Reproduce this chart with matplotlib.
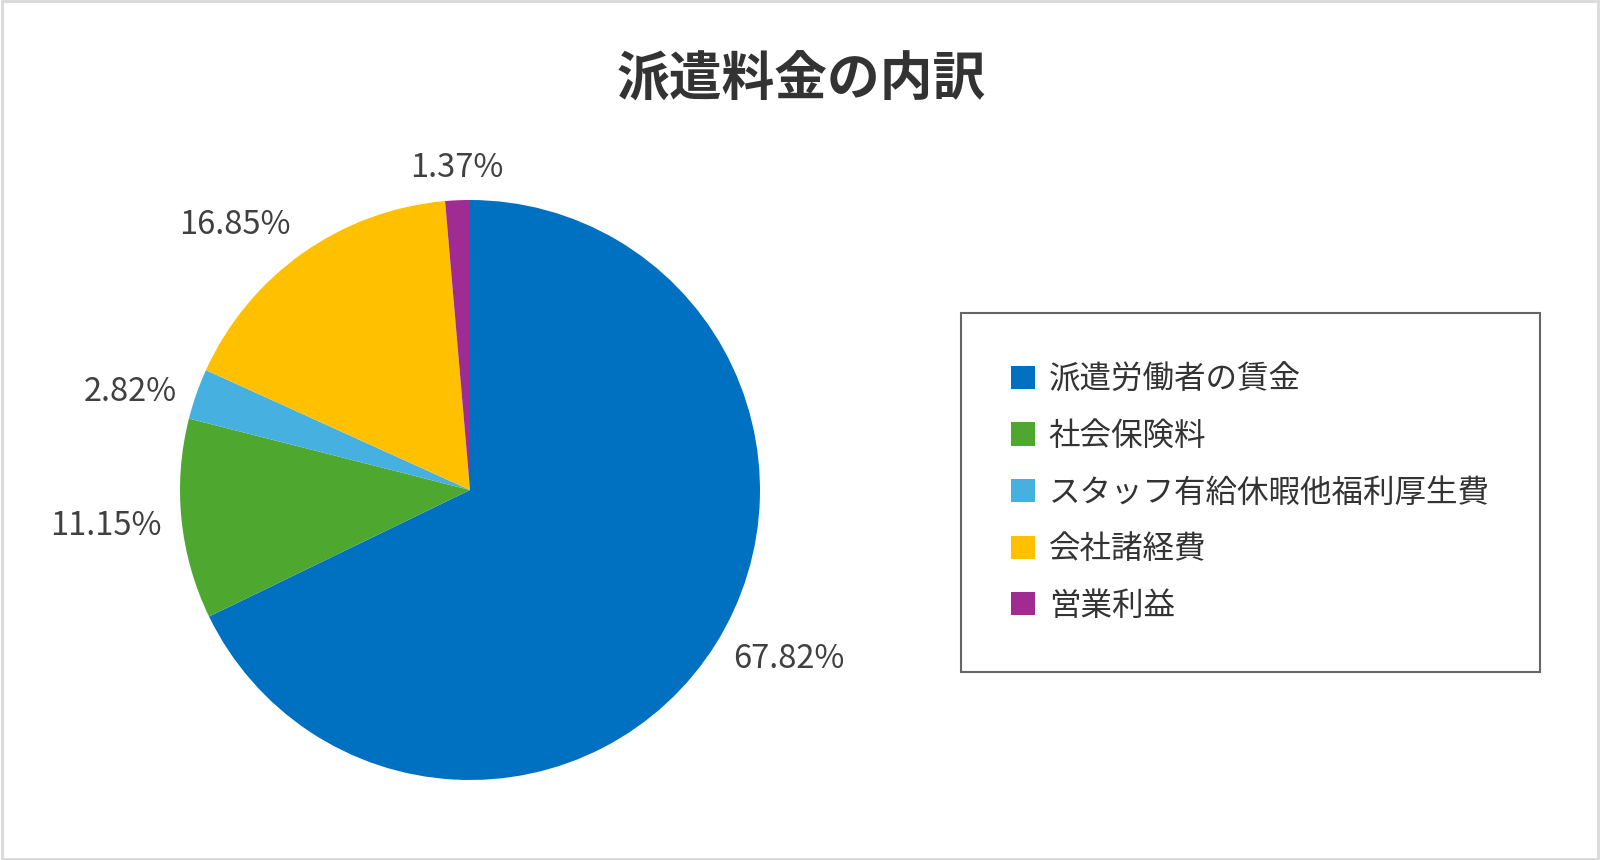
import numpy as np
import matplotlib
matplotlib.use("Agg")
import matplotlib.pyplot as plt
from matplotlib.patches import Rectangle

plt.rcParams['font.family'] = ['Noto Sans CJK JP', 'DejaVu Sans']

# data
categories = ['派遣労働者の賃金', '社会保険料', 'スタッフ有給休暇他福利厚生費', '会社諸経費', '営業利益']
shares = [67.82, 11.15, 2.82, 16.85, 1.37]
colors = ['#0070C0', '#4EA72E', '#46B1E1', '#FFC000', '#A02B93']
title = '派遣料金の内訳'

W, H = 1600, 860
fig = plt.figure(figsize=(W / 100, H / 100), dpi=100)
fig.patch.set_facecolor('white')

# light grey border round the picture
fig.patches.append(Rectangle((0.001, 0.001), 0.998, 0.998, transform=fig.transFigure,
                             fill=False, edgecolor='#d9d9d9', linewidth=2))

# pie: centre (470, 490) px, radius 290 px
cx, cy, r = 470, 490, 290
ax = fig.add_axes([(cx - r) / W, (H - cy - r) / H, 2 * r / W, 2 * r / H])
wedges, _ = ax.pie(shares, colors=colors, startangle=90, counterclock=False,
                   radius=1.0, wedgeprops=dict(linewidth=0))
ax.set_xlim(-1, 1)
ax.set_ylim(-1, 1)

# outside-end labels: box touches a circle just beyond the rim
for w, v in zip(wedges, shares):
    ang = np.deg2rad((w.theta1 + w.theta2) / 2)
    c, s = np.cos(ang), np.sin(ang)
    ha = 'left' if c > 0.2 else ('right' if c < -0.2 else 'center')
    va = 'bottom' if s > 0.6 else ('top' if s < -0.6 else 'center')
    ax.text(1.07 * c, 1.07 * s - 0.015, f'{v:.2f}%', ha=ha, va=va,
            fontsize=23.5, color='#404040')

fig.text(801 / W, 1 - 80 / H, title, ha='center', va='center',
         fontsize=38, fontweight='bold', color='#333333')

leg = fig.legend(wedges, categories, loc='upper left',
                 bbox_to_anchor=(961 / W, 1 - 313 / H),
                 fontsize=22.7, frameon=True, fancybox=False,
                 edgecolor='#404040', borderpad=1.6, labelspacing=0.78,
                 handlelength=0.76, handleheight=0.76, handletextpad=0.42,
                 borderaxespad=0)
leg.get_frame().set_linewidth(1.5)
for t in leg.get_texts():
    t.set_color('#333333')

fig.savefig('out.png', dpi=100)
